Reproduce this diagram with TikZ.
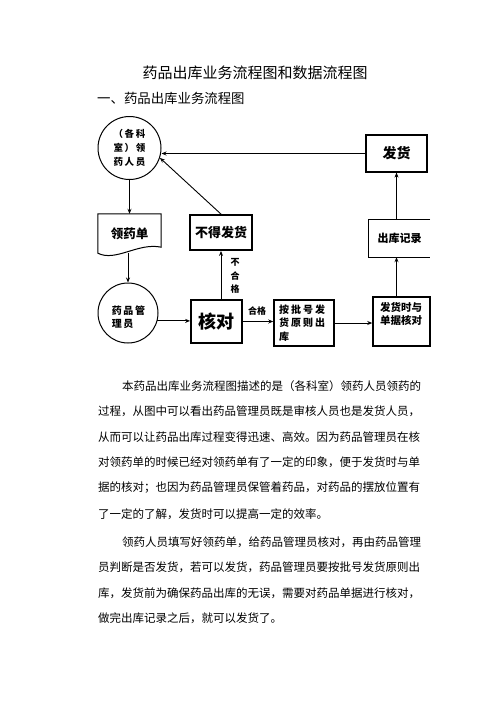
\documentclass[tikz,border=0pt]{standalone}
\usepackage{fontspec}
\setmainfont{Noto Sans CJK SC}
\usetikzlibrary{arrows.meta}
\tikzset{
  bx/.style={draw, line width=1.2pt, inner sep=0pt},
  thk/.style={line width=1.8pt},
  arr/.style={-{Stealth[length=5pt,width=4pt]}, line width=0.9pt},
  lbl/.style={font=\bfseries\fontsize{9}{13.5}\selectfont, inner sep=0pt, align=center},
  bodyline/.style={anchor=west, inner sep=0pt, font=\fontsize{11.5}{14}\selectfont},
}
\begin{document}
\begin{tikzpicture}[x=1pt,y=-1pt]
\fill[white] (0,0) rectangle (496,702);
\useasboundingbox (0,0) rectangle (496,702);

% titles
\node[inner sep=0pt, font=\fontsize{15}{18}\selectfont] (title) at (255,73) {药品出库业务流程图和数据流程图};
\node[anchor=west, inner sep=0pt, font=\fontsize{13.4}{16}\selectfont] (head) at (97,98) {一、药品出库业务流程图};

% nodes
\node[circle, draw, line width=1pt, minimum size=63pt, inner sep=0pt, align=center,
      font=\bfseries\fontsize{9.5}{14}\selectfont] (c1) at (129.5,148) {（\,各\,科\\室\,）\,领\\药\,人\,员};
\node[bx, minimum width=61pt, minimum height=37pt, font=\bfseries\fontsize{14}{16}\selectfont] (fahuo) at (396.5,153.5) {发货};
\node[bx, thk, minimum width=62pt, minimum height=35pt, font=\bfseries\fontsize{13}{15}\selectfont] (bdfh) at (221,232.5) {不得发货};
\node[inner sep=0pt, minimum width=63pt, minimum height=39pt, font=\bfseries\fontsize{12.5}{15}\selectfont] (ldd) at (129.5,233.5) {领药单};
\draw[line width=1pt] (ldd.south west) .. controls +(18,9) and +(-23,-5) .. ([yshift=6pt]ldd.south east) -- (ldd.north east) -- (ldd.north west) -- cycle;
\node[inner sep=0pt, minimum width=61pt, minimum height=37pt, font=\bfseries\fontsize{11}{13}\selectfont] (ckjl) at (399.5,238.5) {出库记录};
\draw[line width=1.2pt] (ckjl.north east) -- (ckjl.north west) -- (ckjl.south west) -- (ckjl.south east);

\node[circle, draw, line width=1pt, minimum size=60pt, inner sep=0pt] (c2) at (128,313) {};
\node[inner sep=0pt, align=left, font=\bfseries\fontsize{10}{12.5}\selectfont] (c2t) at (128.5,317) {药\,品\,管\\理\,员};
\node[bx, thk, minimum width=51pt, minimum height=43pt, font=\bfseries\fontsize{18}{20}\selectfont] (hedui) at (216.5,321.5) {核对};
\node[bx, line width=1.5pt, minimum width=60pt, minimum height=46pt, align=left, text width=50pt,
      font=\bfseries\fontsize{10}{13.5}\selectfont] (anpi) at (304,323) {按\hspace{2pt}批\hspace{2pt}号\hspace{2pt}发\\货\hspace{2pt}原\hspace{2pt}则\hspace{2pt}出\\库};
\node[bx, line width=1.5pt, minimum width=57pt, minimum height=49pt] (fhsy) at (401.5,321.5) {};
\node[anchor=north west, inner sep=0pt, align=left, font=\bfseries\fontsize{10.5}{13}\selectfont] (fhsyt) at (380,302) {发货时与\\单据核对};

% labels
\node[lbl] (bhg) at (235,276) {不\\合\\格};
\node[lbl] (hg) at (257,311) {合格};

% connectors
\draw[arr, line width=1.5pt] (fahuo.west) -- (fahuo.west -| c1.east);
\draw[arr] (bdfh.north) -- (c1.-18);
\draw[arr] (c1.south) -- (c1.south |- ldd.north);
\draw[arr] (c2.north |- ldd.south) -- (c2.north);
\draw[arr] (c2.-15) -- (c2.-15 -| hedui.west);
\draw[arr] (bdfh.south |- hedui.north) -- (bdfh.south);
\draw[arr] (hedui.east) -- (hedui.east -| anpi.west);
\draw[arr] (anpi.east) -- (anpi.east -| fhsy.west);
\draw[arr] (fahuo.south |- fhsy.north) -- (fahuo.south |- ckjl.south);
\draw[arr] (fahuo.south |- ckjl.north) -- (fahuo.south);

% body text
\node[bodyline] (p1a) at (122,386) {本药品出库业务流程图描述的是（各科室）领药人员领药的};
\node[bodyline] (p1b) at (98,411.5) {过程，从图中可以看出药品管理员既是审核人员也是发货人员，};
\node[bodyline] (p1c) at (98,437) {从而可以让药品出库过程变得迅速、高效。因为药品管理员在核};
\node[bodyline] (p1d) at (98,462.5) {对领药单的时候已经对领药单有了一定的印象，便于发货时与单};
\node[bodyline] (p1e) at (98,488) {据的核对；也因为药品管理员保管着药品，对药品的摆放位置有};
\node[bodyline] (p1f) at (98,514) {了一定的了解，发货时可以提高一定的效率。};
\node[bodyline] (p2a) at (122,542) {领药人员填写好领药单，给药品管理员核对，再由药品管理};
\node[bodyline] (p2b) at (98,567.5) {员判断是否发货，若可以发货，药品管理员要按批号发货原则出};
\node[bodyline] (p2c) at (98,593) {库，发货前为确保药品出库的无误，需要对药品单据进行核对，};
\node[bodyline] (p2d) at (98,618.5) {做完出库记录之后，就可以发货了。};
\end{tikzpicture}
\end{document}
